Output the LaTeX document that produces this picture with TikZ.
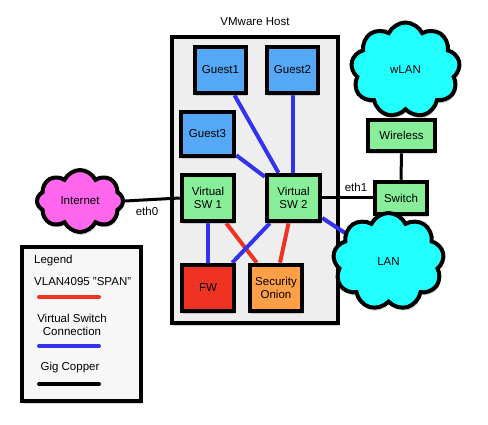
\documentclass[tikz,border=0pt]{standalone}
\usepackage{fontspec}
\setmainfont{Liberation Sans}
\usetikzlibrary{shapes.symbols,shadows,calc}
\pgfdeclarelayer{bg}
\pgfdeclarelayer{wires}
\pgfsetlayers{bg,wires,main}
\definecolor{guestblue}{HTML}{55A8F5}
\definecolor{swgreen}{HTML}{88EE99}
\definecolor{fwred}{HTML}{EE3322}
\definecolor{soorange}{HTML}{FFA048}
\definecolor{cloudcyan}{HTML}{22FFFF}
\definecolor{netpink}{HTML}{FF66EE}
\definecolor{vlinkblue}{HTML}{3333EE}
\definecolor{spanred}{HTML}{EE3322}
\definecolor{hostgray}{HTML}{EEEEEE}
\tikzset{
  shd/.style={drop shadow={shadow xshift=1pt,shadow yshift=-3pt,opacity=0.35}},
  box/.style={draw=black,line width=4.5pt,rectangle,align=center,inner sep=1pt,
    minimum width=52pt,minimum height=46pt,shd,
    font=\fontsize{11.5}{13.5}\selectfont},
  netcloud/.style={draw=black,line width=4pt,cloud,cloud puffs=9,cloud puff arc=130,
    cloud ignores aspect,shd,font=\fontsize{11.5}{13.5}\selectfont},
  vlink/.style={draw=vlinkblue,line width=4pt},
  span/.style={draw=spanred,line width=4pt},
  copper/.style={draw=black,line width=3pt},
  lbl/.style={font=\fontsize{11.5}{13.5}\selectfont,inner sep=0pt},
}
\begin{document}
\begin{tikzpicture}[x=1pt,y=-1pt]
\useasboundingbox (0,0) rectangle (488,425);
% host box
\begin{pgfonlayer}{bg}
\node[draw=black,line width=4.5pt,fill=hostgray,shd,minimum width=166pt,minimum height=286pt,inner sep=0pt] (host) at (255,180) {};
\end{pgfonlayer}
\node[lbl] (hostlbl) at (255,22) {VMware Host};
% guests and switches
\node[box,fill=guestblue,minimum width=51pt] (g1) at (220.5,70) {Guest1};
\node[box,fill=guestblue,minimum width=51pt] (g2) at (292.5,70) {Guest2};
\node[box,fill=guestblue,minimum width=53pt,minimum height=44pt] (g3) at (207.5,134) {Guest3};
\node[box,fill=swgreen] (vsw1) at (208,198) {Virtual\\SW 1};
\node[box,fill=swgreen,minimum width=53pt] (vsw2) at (293.5,198) {Virtual\\SW 2};
\node[box,fill=fwred] (fw) at (208,288) {FW};
\node[box,fill=soorange] (so) at (276,288) {Security\\Onion};
% external
\node[netcloud,fill=netpink,minimum width=86pt,minimum height=62pt,cloud puffs=8] (inet) at (80,201) {Internet};
\node[netcloud,fill=cloudcyan,minimum width=109pt,minimum height=95pt] (wlan) at (405.5,70) {wLAN};
\node[box,fill=swgreen,minimum width=67pt,minimum height=31pt] (wifi) at (401.5,135.5) {Wireless};
\node[box,fill=swgreen,minimum width=52pt,minimum height=32pt] (sw) at (401,198) {Switch};
\node[netcloud,fill=cloudcyan,minimum width=111pt,minimum height=97pt] (lan) at (388.5,261.5) {LAN};
\node[lbl] (eth0) at (147,211) {eth0};
\node[lbl] (eth1) at (356,187) {eth1};
% wires
\begin{pgfonlayer}{wires}
\draw[vlink] ([xshift=14pt]g1.south) -- ([xshift=-15pt]vsw2.north);
\draw[vlink] (g2.south) -- (g2.south|-vsw2.north);
\draw[vlink] ([yshift=3pt]g3.south east) -- ([yshift=-4pt]vsw2.north west);
\draw[vlink] (vsw1.south) -- (fw.north);
\draw[span] ([xshift=-10pt]vsw1.south east) -- ([xshift=9pt]so.north west);
\draw[vlink] ([xshift=5pt]vsw2.south west) -- ([xshift=-4pt]fw.north east);
\draw[span] ([xshift=-5pt]vsw2.south) -- ([xshift=4pt]so.north);
\draw[vlink] ([yshift=-20pt]vsw2.east) -- (lan.center);
\draw[copper] (inet.east) -- (vsw1.west);
\draw[copper] (vsw2.east) -- (sw.west);
\draw[copper] (wifi.south) -- (sw.north);
\end{pgfonlayer}
% legend
\node[draw=black,line width=4.5pt,fill=white!97!black,shd,minimum width=119pt,minimum height=154pt,inner sep=0pt] (legend) at (81.5,324) {};
\node[lbl,anchor=west] (lgtitle) at (34,261) {Legend};
\node[lbl,anchor=west] (lgspan) at (34,282) {VLAN4095 "SPAN"};
\node[lbl,align=center] (lgv) at (72,325) {Virtual Switch\\Connection};
\node[lbl] (lgc) at (70,368) {Gig Copper};
\coordinate (r1) at (39,297); \coordinate (r2) at (99,297);
\coordinate (b1) at (39,346); \coordinate (b2) at (99,346);
\coordinate (k1) at (39,384); \coordinate (k2) at (99,384);
\draw[span,line cap=round] (r1) -- (r2);
\draw[vlink,line cap=round] (b1) -- (b2);
\draw[copper,line width=4pt,line cap=round] (k1) -- (k2);
\end{tikzpicture}
\end{document}
